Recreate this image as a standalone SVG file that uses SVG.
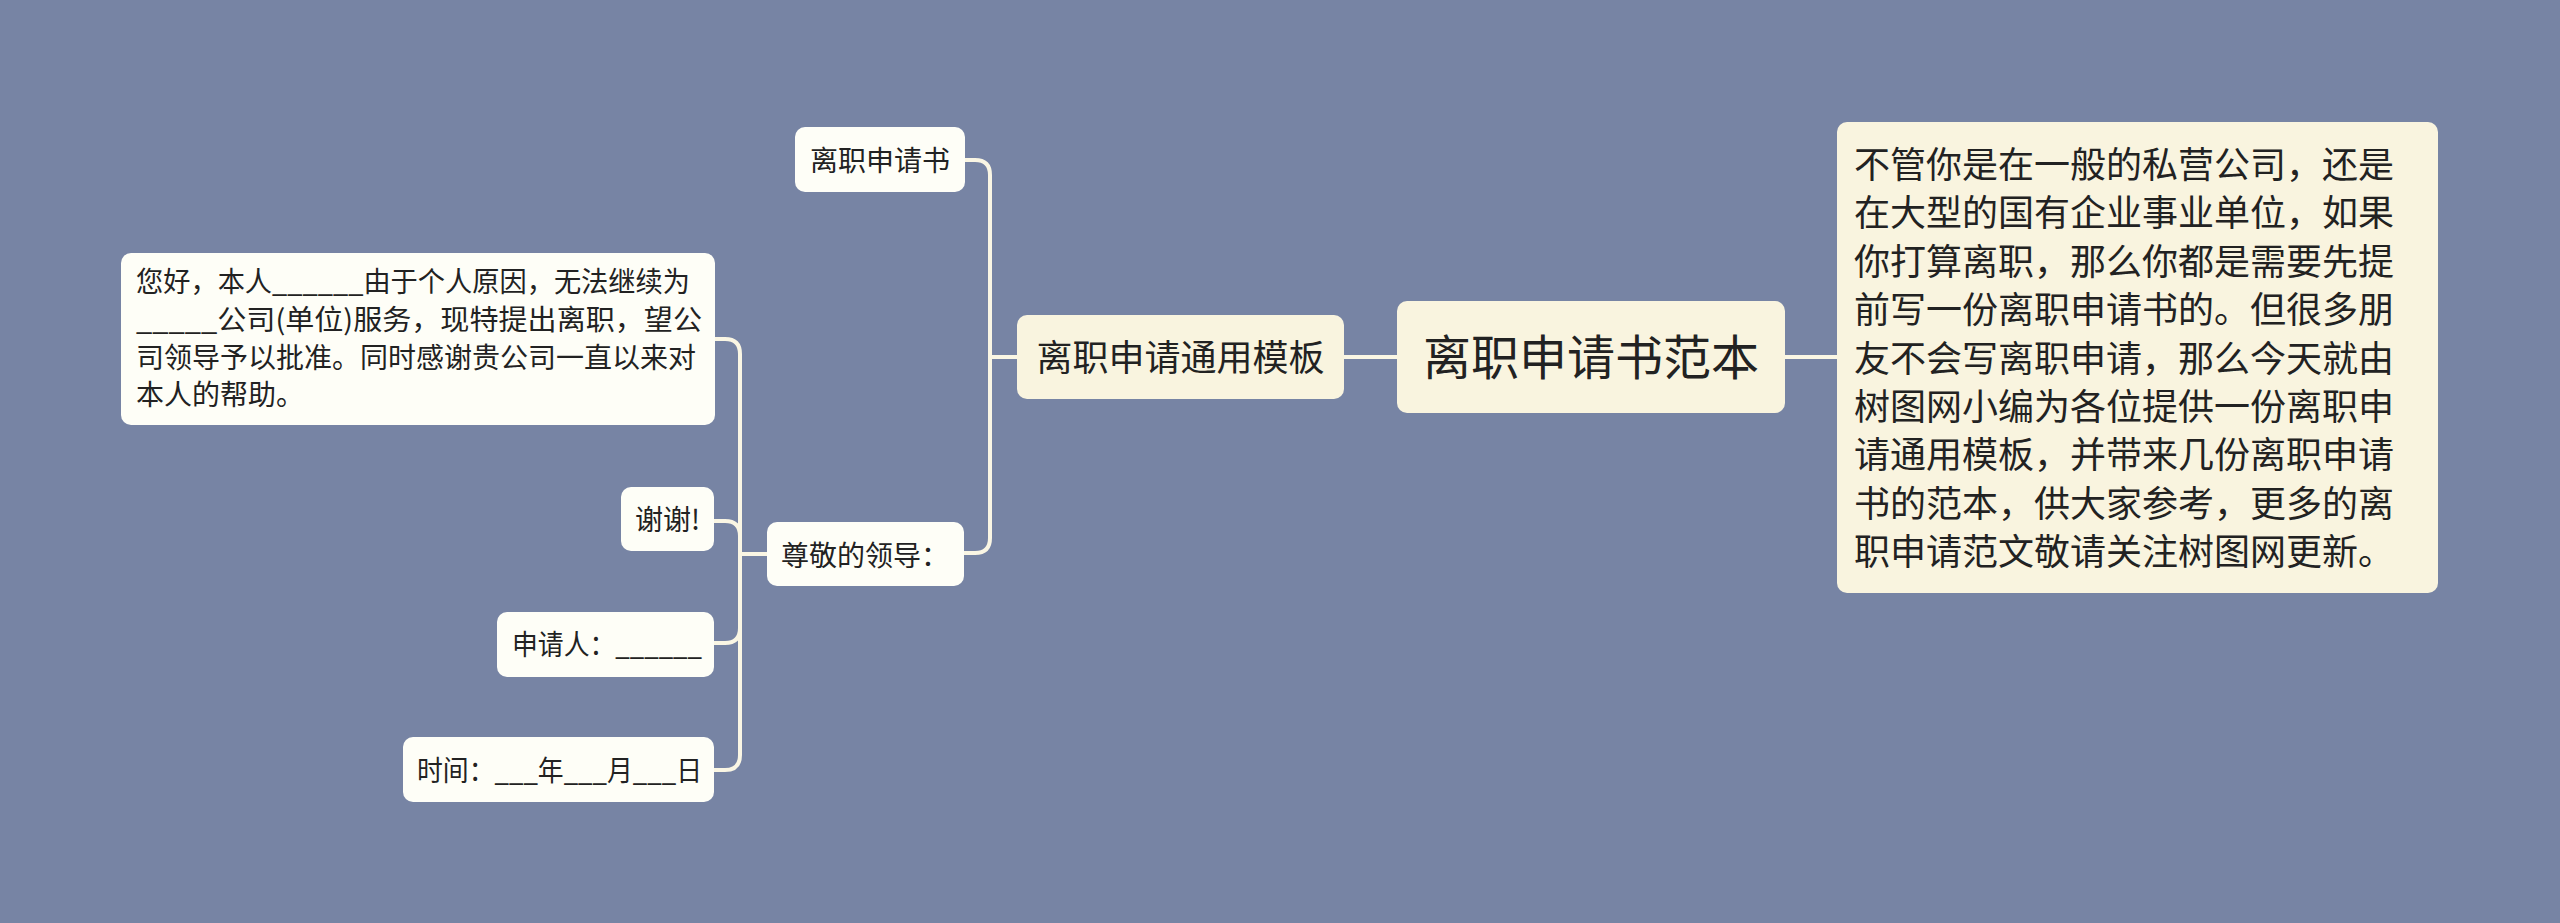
<svg xmlns="http://www.w3.org/2000/svg" width="2560" height="923" viewBox="0 0 2560 923">
<style>
.t{font-family:"Noto Sans CJK SC","Noto Sans",sans-serif;fill:#222}
.main{fill:#F9F4DF}
.leaf{fill:#FEFEF7}
.c{fill:none;stroke:#FAF6E4;stroke-width:4}
</style>
<rect x="0" y="0" width="2560" height="923" fill="#7784A4"/>
<g id="connectors">
<path class="c" d="M1785 357 H1837"/>
<path class="c" d="M1397 357 H1344"/>
<path class="c" d="M1017 357 H990 V175 Q990 160 975 160 H965"/>
<path class="c" d="M1017 357 H990 V538 Q990 553 975 553 H964"/>
<path class="c" d="M767 554 H740 V354 Q740 339 725 339 H715"/>
<path class="c" d="M767 554 H740 V536 Q740 521 725 521 H714"/>
<path class="c" d="M767 554 H740 V628 Q740 643 725 643 H714"/>
<path class="c" d="M767 554 H740 V755 Q740 770 725 770 H714"/>
</g>
<g id="root">
<rect class="main" x="1397" y="301" width="388" height="112" rx="10"/>
<text class="t" x="1591" y="375" font-size="48" text-anchor="middle">离职申请书范本</text>
</g>
<g id="intro">
<rect class="main" x="1837" y="122" width="601" height="471" rx="10"/>
<text class="t" font-size="36">
<tspan x="1854" y="178">不管你是在一般的私营公司，还是</tspan>
<tspan x="1854" y="226.4">在大型的国有企业事业单位，如果</tspan>
<tspan x="1854" y="274.8">你打算离职，那么你都是需要先提</tspan>
<tspan x="1854" y="323.2">前写一份离职申请书的。但很多朋</tspan>
<tspan x="1854" y="371.6">友不会写离职申请，那么今天就由</tspan>
<tspan x="1854" y="420">树图网小编为各位提供一份离职申</tspan>
<tspan x="1854" y="468.4">请通用模板，并带来几份离职申请</tspan>
<tspan x="1854" y="516.8">书的范本，供大家参考，更多的离</tspan>
<tspan x="1854" y="565.2">职申请范文敬请关注树图网更新。</tspan>
</text>
</g>
<g id="template">
<rect class="main" x="1017" y="315" width="327" height="84" rx="10"/>
<text class="t" x="1180.5" y="370.5" font-size="36" text-anchor="middle">离职申请通用模板</text>
</g>
<g id="title-leaf">
<rect class="leaf" x="795" y="127" width="170" height="65" rx="10"/>
<text class="t" x="880" y="171" font-size="28" text-anchor="middle">离职申请书</text>
</g>
<g id="greeting">
<rect class="leaf" x="767" y="522" width="197" height="64" rx="10"/>
<text class="t" x="781" y="566" font-size="28">尊敬的领导：</text>
</g>
<g id="body">
<rect class="leaf" x="121" y="253" width="594" height="172" rx="10"/>
<text class="t" x="136" y="292" font-size="28" textLength="554" lengthAdjust="spacingAndGlyphs">您好，本人______由于个人原因，无法继续为</text>
<text class="t" x="136" y="330" font-size="28" textLength="566" lengthAdjust="spacingAndGlyphs">_____公司(单位)服务，现特提出离职，望公</text>
<text class="t" x="136" y="367.5" font-size="28">司领导予以批准。同时感谢贵公司一直以来对</text>
<text class="t" x="136" y="405" font-size="28">本人的帮助。</text>
</g>
<g id="thanks">
<rect class="leaf" x="621" y="487" width="93" height="64" rx="10"/>
<text class="t" x="635" y="530" font-size="28">谢谢!</text>
</g>
<g id="applicant">
<rect class="leaf" x="497" y="612" width="217" height="65" rx="10"/>
<text class="t" x="512" y="655" font-size="28" textLength="190" lengthAdjust="spacingAndGlyphs">申请人：______</text>
</g>
<g id="date">
<rect class="leaf" x="403" y="737" width="311" height="65" rx="10"/>
<text class="t" x="417" y="781" font-size="28" textLength="285" lengthAdjust="spacingAndGlyphs">时间：___年___月___日</text>
</g>
</svg>
